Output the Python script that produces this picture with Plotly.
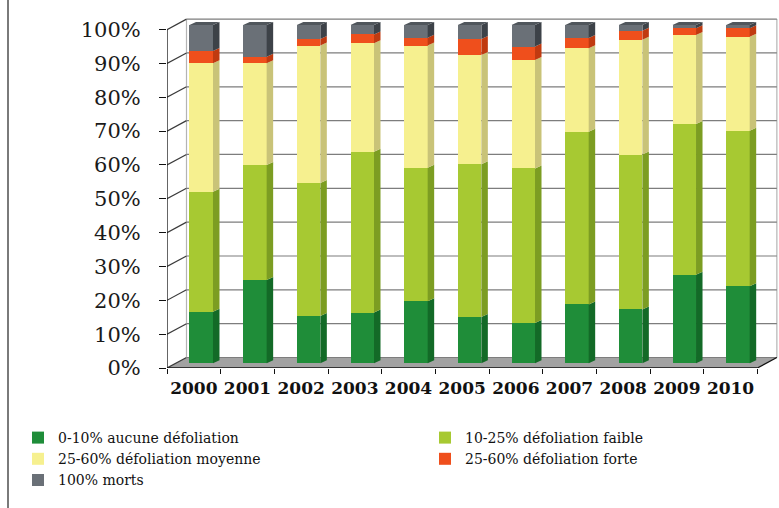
import plotly.graph_objects as go

# Crown defoliation classes per year (share of trees, %)
years = ["2000", "2001", "2002", "2003", "2004", "2005",
         "2006", "2007", "2008", "2009", "2010"]
aucune = [15.2, 24.6, 14.0, 15.0, 18.3, 13.7, 11.9, 17.4, 15.9, 26.2, 22.8]
faible = [35.5, 34.0, 39.3, 47.5, 39.5, 45.1, 45.7, 51.0, 45.8, 44.5, 45.9]
moyenne = [38.0, 30.1, 40.6, 32.1, 36.1, 32.3, 32.0, 24.7, 33.9, 26.3, 27.8]
forte = [3.6, 1.9, 1.9, 2.6, 2.3, 4.7, 4.0, 3.0, 2.7, 2.0, 2.5]
morts = [7.7, 9.4, 4.2, 2.8, 3.8, 4.2, 6.4, 3.9, 1.7, 1.0, 1.0]

names = ["0-10% aucune défoliation", "10-25% défoliation faible",
         "25-60% défoliation moyenne", "25-60% défoliation forte",
         "100% morts"]
series = [aucune, faible, moyenne, forte, morts]
legend_of = ["legend", "legend2", "legend", "legend2", "legend"]
front_colors = ["#1f8d39", "#a7c932", "#f6f08f", "#ef4f1c", "#6a7077"]
side_colors = ["#136a27", "#7c9d22", "#c9c378", "#c03a10", "#3d4248"]
top_color = "#50565c"
tick_pct = list(range(0, 101, 10))
tick_txt = [f"{v}%" for v in tick_pct]

# ---- geometry (pixels) ----
W, H = 779, 508
L, R, T, B = 167, 778, 18, 368
PX_X = 53.67          # px per category
PX_Y = 3.384          # px per percent
x_range = [-0.5, -0.5 + (R - L) / PX_X]
y_range = [0, (B - T) / PX_Y]
n = len(years)

DX, DY = 19.5 / PX_X, 10.5 / PX_Y     # depth of the box (back wall offset)
BX, BY = 7.4 / PX_X, 4.7 / PX_Y       # bars sit inside the box
BW = 23.5 / PX_X                       # front face width
SX, SY = 6.5 / PX_X, 3.0 / PX_Y        # bar depth

fig = go.Figure()

xs = list(range(n))
for k, (name, vals, col) in enumerate(zip(names, series, front_colors)):
    fig.add_trace(go.Bar(
        x=xs, y=vals, name=name, width=BW,
        marker=dict(color=col, line=dict(width=0)),
        xaxis="x2", yaxis="y2", hoverinfo="skip",
        legend=legend_of[k], legendgroup=str(k),
    ))

shapes = []
x0, x1 = -0.5, n - 0.5

# floor
shapes.append(dict(type="path", xref="x", yref="y", layer="below",
                   path=f"M{x0},0 L{x1},0 L{x1+DX},{DY} L{x0+DX},{DY} Z",
                   fillcolor="#a2a2a2", line=dict(width=0)))
# back wall vertical edges
for xe in (x0 + DX, x1 + DX):
    shapes.append(dict(type="line", xref="x", yref="y", layer="below",
                       x0=xe, x1=xe, y0=DY, y1=100 + DY,
                       line=dict(color="#b4b4b4", width=1.2)))
# gridlines: diagonal on side wall + horizontal on back wall
for v in tick_pct:
    shapes.append(dict(type="line", xref="x", yref="y", layer="below",
                       x0=x0, y0=v, x1=x0 + DX, y1=v + DY,
                       line=dict(color="#3a3a3a", width=1.2)))
    shapes.append(dict(type="line", xref="x", yref="y", layer="below",
                       x0=x0 + DX, y0=v + DY, x1=x1 + DX, y1=v + DY,
                       line=dict(color="#7d7d7d", width=1.2)))
# axis lines
shapes.append(dict(type="line", xref="x", yref="y", x0=x0, y0=0, x1=x0, y1=100,
                   line=dict(color="#111", width=1.3)))
shapes.append(dict(type="line", xref="x", yref="y", x0=x0, y0=0, x1=x1, y1=0,
                   line=dict(color="#111", width=1.3)))
shapes.append(dict(type="line", xref="x", yref="y", x0=x1, y0=0, x1=x1 + DX, y1=DY,
                   line=dict(color="#111", width=1.3)))

# bar side faces and top caps
for i in range(n):
    xr = i + BW / 2
    xl = i - BW / 2
    base = 0.0
    for k, vals in enumerate(series):
        top = base + vals[i]
        shapes.append(dict(
            type="path", xref="x2", yref="y2", layer="above",
            path=(f"M{xr},{base} L{xr+SX},{base+SY} "
                  f"L{xr+SX},{top+SY} L{xr},{top} Z"),
            fillcolor=side_colors[k], line=dict(width=0)))
        base = top
    shapes.append(dict(
        type="path", xref="x2", yref="y2", layer="above",
        path=(f"M{xl},{base} L{xr},{base} L{xr+SX},{base+SY} "
              f"L{xl+SX},{base+SY} Z"),
        fillcolor=top_color, line=dict(width=0)))

# left frame line
pw, ph = R - L, B - T
shapes.append(dict(type="line", xref="paper", yref="paper",
                   x0=(8 - L) / pw, x1=(8 - L) / pw,
                   y0=-(H - B) / ph, y1=1 + T / ph,
                   line=dict(color="#7a7a7a", width=2)))

legend_common = dict(
    orientation="v", yanchor="top", xanchor="left",
    y=-(422 - B) / ph, tracegroupgap=0,
    font=dict(family="DejaVu Serif", size=14, color="#111"),
    bgcolor="rgba(0,0,0,0)", traceorder="normal",
)

fig.update_layout(
    width=W, height=H,
    margin=dict(l=L, r=W - R, t=T, b=H - B, pad=0, autoexpand=False),
    paper_bgcolor="white", plot_bgcolor="rgba(0,0,0,0)",
    barmode="stack", bargap=0,
    shapes=shapes,
    showlegend=True,
    legend=dict(x=(18 - L) / pw, **legend_common),
    legend2=dict(x=(425 - L) / pw, **legend_common),
    xaxis=dict(
        range=x_range, tickvals=xs, ticktext=years, showgrid=False,
        zeroline=False, showline=False, ticks="",
        minor=dict(tickvals=[i - 0.5 for i in range(n + 1)], ticks="outside",
                   ticklen=5, tickcolor="#111", tickwidth=1.3, showgrid=False),
        tickfont=dict(family="DejaVu Serif", size=17, color="#111", weight="bold"),
        ticklabelstandoff=8,
    ),
    yaxis=dict(
        range=y_range, tickvals=tick_pct, ticktext=tick_txt, showgrid=False,
        zeroline=False, showline=False, ticks="outside", ticklen=7,
        tickcolor="#111", tickwidth=1.3,
        tickfont=dict(family="DejaVu Serif", size=21, color="#1a1a1a"),
        ticklabelstandoff=14,
    ),
    xaxis2=dict(range=[x_range[0] - BX, x_range[1] - BX], overlaying="x",
                visible=False),
    yaxis2=dict(range=[-BY, y_range[1] - BY], overlaying="y", visible=False),
)

fig.write_html("out.html")
